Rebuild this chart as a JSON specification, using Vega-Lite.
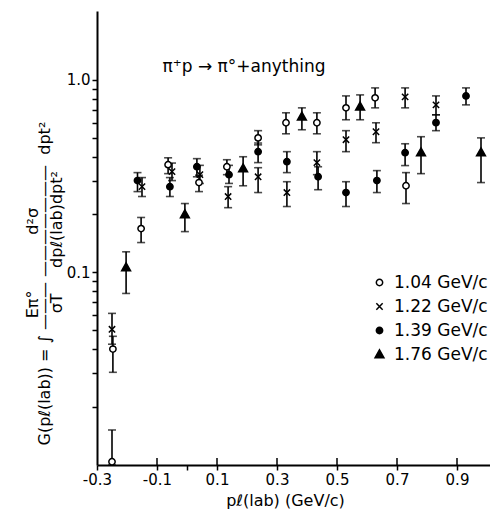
{
  "$schema": "https://vega.github.io/schema/vega-lite/v6.json",
  "width": 393,
  "height": 454,
  "autosize": {"type": "none"},
  "padding": {"left": 97, "top": 11, "right": 0, "bottom": 50},
  "background": "white",
  "config": {
    "view": {"stroke": null},
    "font": "DejaVu Sans",
    "axis": {"grid": false, "ticks": true, "tickSize": 5, "tickColor": "black", "tickWidth": 1.5, "domainColor": "black", "domainWidth": 2, "labelColor": "black", "titleColor": "black", "labelFont": "DejaVu Sans", "titleFont": "DejaVu Sans", "titleFontWeight": "normal", "labelOverlap": false, "labelFlush": false},
    "legend": {"padding": 0}
  },
  "datasets": {
    "pts": [
      {"p": -0.25, "g": 0.0104, "lo": 0.0100, "hi": 0.0152, "series": "1.04 GeV/c"},
      {"p": -0.247, "g": 0.040, "lo": 0.0303, "hi": 0.0466, "series": "1.04 GeV/c"},
      {"p": -0.153, "g": 0.169, "lo": 0.143, "hi": 0.193, "series": "1.04 GeV/c"},
      {"p": -0.063, "g": 0.363, "lo": 0.326, "hi": 0.394, "series": "1.04 GeV/c"},
      {"p": 0.04, "g": 0.293, "lo": 0.263, "hi": 0.32, "series": "1.04 GeV/c"},
      {"p": 0.133, "g": 0.354, "lo": 0.322, "hi": 0.385, "series": "1.04 GeV/c"},
      {"p": 0.237, "g": 0.50, "lo": 0.46, "hi": 0.545, "series": "1.04 GeV/c"},
      {"p": 0.33, "g": 0.599, "lo": 0.525, "hi": 0.675, "series": "1.04 GeV/c"},
      {"p": 0.433, "g": 0.599, "lo": 0.525, "hi": 0.675, "series": "1.04 GeV/c"},
      {"p": 0.53, "g": 0.716, "lo": 0.621, "hi": 0.826, "series": "1.04 GeV/c"},
      {"p": 0.627, "g": 0.807, "lo": 0.716, "hi": 0.909, "series": "1.04 GeV/c"},
      {"p": 0.73, "g": 0.282, "lo": 0.228, "hi": 0.330, "series": "1.04 GeV/c"},
      {"p": -0.25, "g": 0.0507, "lo": 0.0424, "hi": 0.0613, "series": "1.22 GeV/c"},
      {"p": -0.15, "g": 0.279, "lo": 0.248, "hi": 0.311, "series": "1.22 GeV/c"},
      {"p": -0.05, "g": 0.334, "lo": 0.30, "hi": 0.37, "series": "1.22 GeV/c"},
      {"p": 0.043, "g": 0.322, "lo": 0.29, "hi": 0.36, "series": "1.22 GeV/c"},
      {"p": 0.137, "g": 0.248, "lo": 0.217, "hi": 0.279, "series": "1.22 GeV/c"},
      {"p": 0.237, "g": 0.314, "lo": 0.26, "hi": 0.35, "series": "1.22 GeV/c"},
      {"p": 0.333, "g": 0.26, "lo": 0.22, "hi": 0.296, "series": "1.22 GeV/c"},
      {"p": 0.433, "g": 0.372, "lo": 0.322, "hi": 0.424, "series": "1.22 GeV/c"},
      {"p": 0.53, "g": 0.489, "lo": 0.424, "hi": 0.545, "series": "1.22 GeV/c"},
      {"p": 0.63, "g": 0.538, "lo": 0.472, "hi": 0.599, "series": "1.22 GeV/c"},
      {"p": 0.727, "g": 0.816, "lo": 0.716, "hi": 0.909, "series": "1.22 GeV/c"},
      {"p": 0.83, "g": 0.742, "lo": 0.659, "hi": 0.826, "series": "1.22 GeV/c"},
      {"p": -0.165, "g": 0.30, "lo": 0.263, "hi": 0.33, "series": "1.39 GeV/c"},
      {"p": -0.057, "g": 0.279, "lo": 0.248, "hi": 0.311, "series": "1.39 GeV/c"},
      {"p": 0.033, "g": 0.354, "lo": 0.314, "hi": 0.39, "series": "1.39 GeV/c"},
      {"p": 0.14, "g": 0.322, "lo": 0.29, "hi": 0.36, "series": "1.39 GeV/c"},
      {"p": 0.237, "g": 0.424, "lo": 0.372, "hi": 0.47, "series": "1.39 GeV/c"},
      {"p": 0.333, "g": 0.376, "lo": 0.33, "hi": 0.424, "series": "1.39 GeV/c"},
      {"p": 0.437, "g": 0.314, "lo": 0.269, "hi": 0.354, "series": "1.39 GeV/c"},
      {"p": 0.53, "g": 0.26, "lo": 0.22, "hi": 0.296, "series": "1.39 GeV/c"},
      {"p": 0.633, "g": 0.30, "lo": 0.26, "hi": 0.338, "series": "1.39 GeV/c"},
      {"p": 0.727, "g": 0.419, "lo": 0.359, "hi": 0.466, "series": "1.39 GeV/c"},
      {"p": 0.83, "g": 0.60, "lo": 0.545, "hi": 0.659, "series": "1.39 GeV/c"},
      {"p": 0.93, "g": 0.826, "lo": 0.742, "hi": 0.909, "series": "1.39 GeV/c"},
      {"p": -0.203, "g": 0.106, "lo": 0.0778, "hi": 0.128, "series": "1.76 GeV/c"},
      {"p": -0.007, "g": 0.20, "lo": 0.163, "hi": 0.228, "series": "1.76 GeV/c"},
      {"p": 0.187, "g": 0.346, "lo": 0.282, "hi": 0.399, "series": "1.76 GeV/c"},
      {"p": 0.383, "g": 0.643, "lo": 0.551, "hi": 0.716, "series": "1.76 GeV/c"},
      {"p": 0.577, "g": 0.725, "lo": 0.621, "hi": 0.836, "series": "1.76 GeV/c"},
      {"p": 0.78, "g": 0.419, "lo": 0.326, "hi": 0.507, "series": "1.76 GeV/c"},
      {"p": 0.98, "g": 0.419, "lo": 0.293, "hi": 0.50, "series": "1.76 GeV/c"}
    ],
    "note": [
      {"p": 0.19, "g": 1.17, "label": "π⁺p → π°+anything"}
    ],
    "xticks": [
      {"v": -0.1, "kind": "major"}, {"v": 0, "kind": "minor"}, {"v": 0.1, "kind": "major"}, {"v": 0.3, "kind": "major"},
      {"v": 0.5, "kind": "major"}, {"v": 0.7, "kind": "major"}, {"v": 0.9, "kind": "major"}
    ]
  },
  "encoding": {
    "x": {
      "field": "p", "type": "quantitative",
      "scale": {"domain": [-0.3, 1.01], "nice": false, "zero": false},
      "axis": {
        "values": [-0.3, -0.1, 0, 0.1, 0.3, 0.5, 0.7, 0.9],
        "labelExpr": "datum.value == 0 ? '' : (datum.value < 0 ? '-' : '') + format(abs(datum.value), '.1f')",
        "labelPadding": 2,
        "labelFontSize": 15,
        "title": "pℓ(lab)  (GeV/c)",
        "titleFontSize": 16,
        "titleX": 188,
        "titleY": 35,
        "titleBaseline": "middle"
      }
    }
  },
  "layer": [
    {
      "data": {"name": "xticks"},
      "transform": [{"filter": "datum.kind == 'major'"}],
      "mark": {"type": "rule", "color": "black", "strokeWidth": 1.5},
      "encoding": {
        "x": {"field": "v", "type": "quantitative"},
        "y": {"datum": 0.01, "type": "quantitative", "scale": {"type": "log", "domain": [0.01, 2.28], "nice": false}},
        "y2": {"datum": 0.01087}
      }
    },
    {
      "data": {"name": "pts"},
      "mark": {"type": "errorbar", "ticks": true, "thickness": 1.6, "size": 8, "color": "black"},
      "encoding": {
        "y": {
          "field": "lo", "type": "quantitative",
          "scale": {"type": "log", "domain": [0.01, 2.28], "nice": false},
          "axis": {
            "values": [0.02, 0.03, 0.04, 0.05, 0.06, 0.07, 0.08, 0.09, 0.1, 0.2, 0.3, 0.4, 0.5, 0.6, 0.7, 0.8, 0.9, 1],
            "labelExpr": "datum.value == 1 ? '1.0' : (datum.value == 0.1 ? '0.1' : '')",
            "labelPadding": 2,
            "labelFontSize": 15,
            "title": [
              "\u200b\u00a0\u00a0\u00a0\u00a0\u00a0\u00a0\u00a0\u00a0\u00a0\u00a0\u00a0\u00a0\u00a0\u00a0\u00a0\u00a0\u00a0\u00a0\u00a0\u00a0\u00a0\u00a0\u00a0\u00a0\u00a0Eπ°\u00a0\u00a0\u00a0\u00a0\u00a0\u00a0\u00a0\u00a0\u00a0\u00a0\u00a0d²σ",
              "G(pℓ(lab))\u00a0=\u00a0∫\u00a0———\u00a0———————\u00a0\u00a0dpt²",
              "\u200b\u00a0\u00a0\u00a0\u00a0\u00a0\u00a0\u00a0\u00a0\u00a0\u00a0\u00a0\u00a0\u00a0\u00a0\u00a0\u00a0\u00a0\u00a0\u00a0\u00a0\u00a0\u00a0\u00a0\u00a0\u00a0\u00a0σT\u00a0\u00a0\u00a0\u00a0\u00a0dpℓ(lab)dpt²"
            ],
            "titleFontSize": 16,
            "titleLineHeight": 12,
            "titleBaseline": "middle",
            "titleAlign": "left",
            "titleX": -65,
            "titleY": 434
          }
        },
        "y2": {"field": "hi"}
      }
    },
    {
      "data": {"name": "pts"},
      "mark": {"type": "point", "filled": false, "stroke": "black", "strokeWidth": 1.5, "opacity": 1, "size": 40},
      "encoding": {
        "y": {"field": "g", "type": "quantitative", "scale": {"type": "log", "domain": [0.01, 2.28], "nice": false}},
        "shape": {
          "field": "series", "type": "nominal",
          "scale": {"domain": ["1.04 GeV/c", "1.22 GeV/c", "1.39 GeV/c", "1.76 GeV/c"], "range": ["circle", "M-1,-1L1,1M-1,1L1,-1", "circle", "M0,-1.5L1.4,1L-1.4,1Z"]},
          "legend": {"title": null, "orient": "none", "legendX": 274, "legendY": 263, "labelFontSize": 17, "labelColor": "black", "symbolSize": 40, "rowPadding": 6, "labelOffset": 6,
            "encode": {"symbols": {"update": {"stroke": {"value": "black"}, "strokeWidth": {"value": 1.5}}}}}
        },
        "fill": {
          "field": "series", "type": "nominal",
          "scale": {"domain": ["1.04 GeV/c", "1.22 GeV/c", "1.39 GeV/c", "1.76 GeV/c"], "range": ["white", "transparent", "black", "black"]},
          "legend": {"title": null, "orient": "none", "legendX": 274, "legendY": 263, "labelFontSize": 17, "labelColor": "black", "symbolSize": 40, "rowPadding": 6, "labelOffset": 6,
            "encode": {"symbols": {"update": {"stroke": {"value": "black"}, "strokeWidth": {"value": 1.5}}}}}
        }
      }
    },
    {
      "data": {"name": "note"},
      "mark": {"type": "text", "fontSize": 17, "color": "black", "font": "DejaVu Sans"},
      "encoding": {
        "y": {"field": "g", "type": "quantitative", "scale": {"type": "log", "domain": [0.01, 2.28], "nice": false}},
        "text": {"field": "label"}
      }
    }
  ]
}
